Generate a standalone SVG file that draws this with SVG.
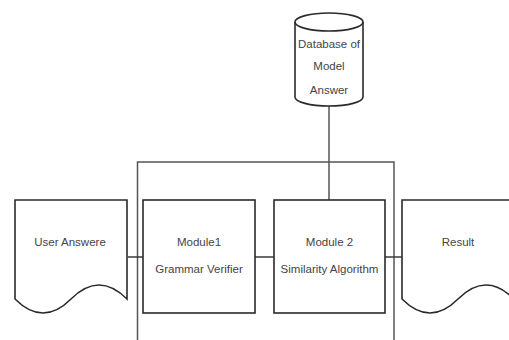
<svg xmlns="http://www.w3.org/2000/svg" width="509" height="340" viewBox="0 0 509 340">
<style>
.shape{fill:#ffffff;stroke:#2a2a2a;stroke-width:1.6}
.line{fill:none;stroke:#3a3a3a;stroke-width:1.5}
.frame{fill:none;stroke:#555555;stroke-width:1.5}
text{font-family:"Liberation Sans",Arial,sans-serif;font-size:11.5px;fill:#444444;text-anchor:middle}
</style>
<rect width="509" height="340" fill="#ffffff"/>
<g id="connectors">
<path class="frame" d="M137.5,340 V162 H394 V340"/>
<line class="line" x1="128" y1="257" x2="143" y2="257"/>
<line class="line" x1="255" y1="257" x2="274" y2="257"/>
<line class="line" x1="385" y1="257" x2="402" y2="257"/>
<line class="frame" x1="329" y1="106" x2="329" y2="200"/>
</g>
<g id="database">
<path class="shape" d="M295,22 V97 A34,9 0 0 0 363,97 V22 A34,9 0 0 0 295,22 Z"/>
<path class="shape" fill="none" d="M295,22 A34,9 0 0 0 363,22"/>
<text x="329" y="48">Database of</text>
<text x="329" y="70">Model</text>
<text x="329" y="94">Answer</text>
</g>
<g id="user-answere">
<path class="shape" d="M15,299 V200 H127 V299 C108.3,280.3 89.7,280.3 71,299 S33.7,317.7 15,299 Z"/>
<text x="70" y="246">User Answere</text>
</g>
<g id="module1">
<rect class="shape" x="143" y="200" width="112" height="113"/>
<text x="199" y="246">Module1</text>
<text x="199" y="273">Grammar Verifier</text>
</g>
<g id="module2">
<rect class="shape" x="274" y="200" width="111" height="113"/>
<text x="329.5" y="246">Module 2</text>
<text x="329.5" y="273">Similarity Algorithm</text>
</g>
<g id="result">
<path class="shape" d="M402,299 V200 H514 V299 C495.3,280.3 476.7,280.3 458,299 S420.7,317.7 402,299 Z"/>
<text x="458" y="246">Result</text>
</g>
</svg>
